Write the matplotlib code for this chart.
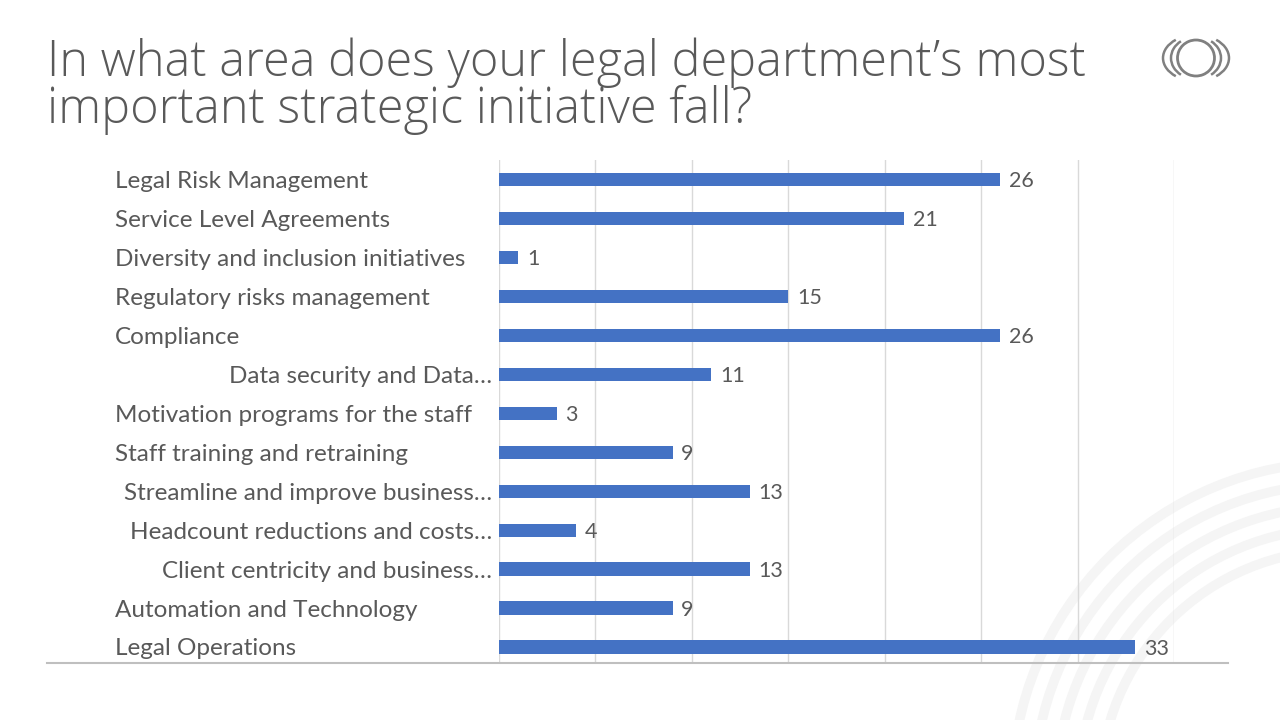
import matplotlib
matplotlib.use("Agg")
import matplotlib.pyplot as plt
from matplotlib.patches import Arc
from matplotlib.lines import Line2D

# data, top to bottom as in the slide
categorias = [
    "Legal Risk Management",
    "Service Level Agreements",
    "Diversity and inclusion initiatives",
    "Regulatory risks management",
    "Compliance",
    "Data security and Data\u2026",
    "Motivation programs for the staff",
    "Staff training and retraining",
    "Streamline and improve business\u2026",
    "Headcount reductions and costs\u2026",
    "Client centricity and business\u2026",
    "Automation and Technology",
    "Legal Operations",
]
valores = [26, 21, 1, 15, 26, 11, 3, 9, 13, 4, 13, 9, 33]

titulo = ["In what area does your legal department\u2019s most",
          "important strategic initiative fall?"]

cinza = "#595959"
azul = "#4472C4"
fonte = "Lato"

fig = plt.figure(figsize=(12.8, 7.2), dpi=100)
fig.patch.set_facecolor("white")

# faint arcs in the background (bottom right)
bg = fig.add_axes([0, 0, 1, 1], zorder=0)
bg.set_xlim(0, 1280)
bg.set_ylim(720, 0)
bg.axis("off")
for r in [240, 262, 284, 306, 328]:
    bg.add_patch(Arc((1340, 790), 2 * r, 2 * r, theta1=180, theta2=270,
                     color="#F5F5F5", lw=7))

# logo top right
bg.add_patch(Arc((1196, 58), 37, 36, color="#808080", lw=2))
for w, h, da in [(50, 42, 48), (66, 46, 42)]:
    bg.add_patch(Arc((1196, 58), w, h, theta1=-da, theta2=da, color="#808080", lw=1.8))
    bg.add_patch(Arc((1196, 58), w, h, theta1=180 - da, theta2=180 + da,
                     color="#808080", lw=1.8))

# title
for linha, base in zip(titulo, [76, 123]):
    fig.text(47 / 1280, 1 - base / 720, linha, fontsize=35, color=cinza,
             family="Open Sans", fontweight="light", va="baseline")

ax = fig.add_axes([499 / 1280, 1 - 663 / 720, 675 / 1280, 503 / 720], zorder=1)
ax.patch.set_alpha(0)
pos = list(range(len(categorias)))
ax.barh(pos, valores, height=0.34, color=azul, zorder=3)
ax.set_xlim(0, 35)
ax.set_ylim(len(categorias) - 0.5 - 3.5 / 39, -0.5)
ax.set_xticks(range(0, 36, 5))
ax.set_yticks([])
ax.tick_params(axis="x", length=0, labelbottom=False)
ax.grid(axis="x", color="#D9D9D9", lw=1, zorder=0)
for s in ax.spines.values():
    s.set_visible(False)

for p, v in zip(pos, valores):
    ax.text(v + 0.45, p + 0.04, str(v), va="center", ha="left", fontsize=15.5,
            color=cinza, family=fonte)

# category labels: truncated ones are right aligned next to the axis
trans = matplotlib.transforms.blended_transform_factory(fig.transFigure, ax.transData)
for p, c in zip(pos, categorias):
    if c.endswith("\u2026"):
        ax.text(492 / 1280, p + 0.05, c, transform=trans, ha="right", va="center",
                fontsize=17.5, color=cinza, family=fonte)
    else:
        ax.text(115 / 1280, p + 0.05, c, transform=trans, ha="left", va="center",
                fontsize=17.5, color=cinza, family=fonte)

# bottom line
fig.add_artist(Line2D([47 / 1280, 1228 / 1280], [1 - 663 / 720] * 2,
                      color="#BFBFBF", lw=1.5, transform=fig.transFigure))

fig.savefig("out.png", dpi=100)
